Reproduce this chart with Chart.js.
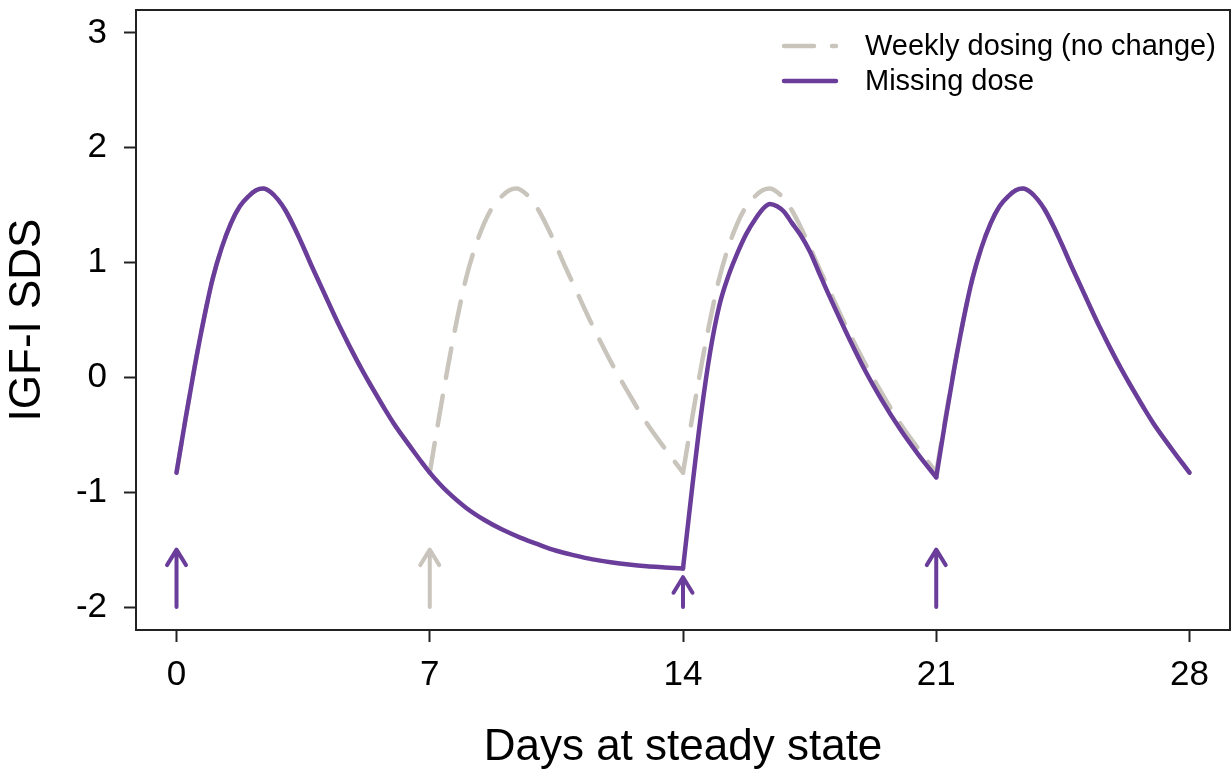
<!DOCTYPE html>
<html><head><meta charset="utf-8">
<script src="https://cdn.jsdelivr.net/npm/chart.js@4/dist/chart.umd.min.js"></script>
<style>html,body{margin:0;padding:0;background:#fff;}canvas{display:block;}</style>
</head><body>
<canvas id="c" width="1232" height="774"></canvas>
<script>
// ---- data ----
const weeklyDays = [
  0,0.25,0.5,0.75,1,1.25,1.5,1.75,2,2.2,2.4,2.6,2.8,3,3.25,3.5,3.75,4,4.5,5,5.5,6,6.5,7,
  7.25,7.5,7.75,8,8.25,8.5,8.75,9,9.2,9.4,9.6,9.8,10,10.25,10.5,10.75,11,11.5,12,12.5,13,13.5,14,
  14.25,14.5,14.75,15,15.25,15.5,15.75,16,16.2,16.4,16.6,16.8,17,17.25,17.5,17.75,18,18.5,19,19.5,20,20.5,21,
  21.25,21.5,21.75,22,22.25,22.5,22.75,23,23.2,23.4,23.6,23.8,24,24.25,24.5,24.75,25,25.5,26,26.5,27,27.5,28
];
const weeklyIGF = [
  -0.83,-0.36,0.09,0.50,0.86,1.13,1.34,1.49,1.58,1.63,1.645,1.615,1.55,1.46,1.31,1.14,0.96,0.79,0.45,0.14,-0.14,-0.40,-0.62,-0.83,
  -0.36,0.09,0.50,0.86,1.13,1.34,1.49,1.58,1.63,1.645,1.615,1.55,1.46,1.31,1.14,0.96,0.79,0.45,0.14,-0.14,-0.40,-0.62,-0.83,
  -0.36,0.09,0.50,0.86,1.13,1.34,1.49,1.58,1.63,1.645,1.615,1.55,1.46,1.31,1.14,0.96,0.79,0.45,0.14,-0.14,-0.40,-0.62,-0.83,
  -0.36,0.09,0.50,0.86,1.13,1.34,1.49,1.58,1.63,1.645,1.615,1.55,1.46,1.31,1.14,0.96,0.79,0.45,0.14,-0.14,-0.40,-0.62,-0.83
];
const weeklyBreaks = [7, 14, 21];

const missingDays = [
  0,0.25,0.5,0.75,1,1.25,1.5,1.75,2,2.2,2.4,2.6,2.8,3,3.25,3.5,3.75,4,4.5,5,5.5,6,6.5,7,
  7.25,7.5,8,8.5,9,9.5,10,10.5,11,11.5,12,12.5,13,13.5,14,
  14.25,14.5,14.75,15,15.25,15.5,15.75,16,16.25,16.4,16.6,16.8,17,17.25,17.5,17.75,18,18.5,19,19.5,20,20.5,21,
  21.25,21.5,21.75,22,22.25,22.5,22.75,23,23.2,23.4,23.6,23.8,24,24.25,24.5,24.75,25,25.5,26,26.5,27,27.5,28
];
const missingIGF = [
  -0.83,-0.36,0.09,0.50,0.86,1.13,1.34,1.49,1.58,1.63,1.645,1.615,1.55,1.46,1.31,1.14,0.96,0.79,0.45,0.14,-0.14,-0.40,-0.62,-0.83,
  -0.92,-1.00,-1.135,-1.24,-1.325,-1.395,-1.455,-1.51,-1.55,-1.585,-1.61,-1.63,-1.645,-1.655,-1.665,
  -0.97,-0.32,0.22,0.62,0.88,1.08,1.25,1.38,1.48,1.51,1.49,1.44,1.35,1.24,1.10,0.92,0.74,0.40,0.08,-0.20,-0.45,-0.67,-0.87,
  -0.38,0.08,0.50,0.86,1.13,1.34,1.49,1.58,1.63,1.645,1.615,1.55,1.46,1.31,1.14,0.96,0.79,0.45,0.14,-0.14,-0.40,-0.62,-0.83
];
const missingBreaks = [14, 21];

const doseDays = [0, 7, 14, 21];
const doseArrowTop = [-1.5, -1.5, -1.74, -1.5];
const doseArrowBase = -2;
const doseSeries = [1, 0, 1, 1];   // 0 = weekly-only (missed) dose, 1 = dose given

const xTicks = [0, 7, 14, 21, 28];
const yTicks = [-2, -1, 0, 1, 2, 3];
const seriesLabels = ['Weekly dosing (no change)', 'Missing dose'];
const xTitle = 'Days at steady state';
const yTitle = 'IGF-I SDS';

// ---- styles ----
const FONT = '"Liberation Sans", Arial, sans-serif';
const seriesStyle = [
  {color: '#c9c5bd', dash: [30, 18], width: 4.5},
  {color: '#6a3d9a', dash: [], width: 4.5}
];

function splitSeries(days, vals, breaks) {
  const segs = []; let cur = [];
  days.forEach((d, i) => {
    cur.push({x: d, y: vals[i]});
    if (breaks.includes(d)) { segs.push(cur); cur = [{x: d, y: vals[i]}]; }
  });
  if (cur.length > 1) segs.push(cur);
  return segs;
}

const datasets = [];
[[missingDays, missingIGF, missingBreaks, 1], [weeklyDays, weeklyIGF, weeklyBreaks, 0]].forEach(([d, v, b, s]) => {
  splitSeries(d, v, b).forEach(seg => {
    datasets.push({
      label: seriesLabels[s], data: seg,
      borderColor: seriesStyle[s].color, borderWidth: seriesStyle[s].width,
      borderDash: seriesStyle[s].dash, borderCapStyle: 'round', borderJoinStyle: 'round',
      pointRadius: 0, fill: false, cubicInterpolationMode: 'monotone',
      order: s === 1 ? 0 : 1
    });
  });
});

const decor = {
  id: 'decor',
  afterDatasetsDraw(chart) {
    const {ctx, scales: {x, y}} = chart;
    ctx.save();
    ctx.lineCap = 'round'; ctx.lineJoin = 'round'; ctx.lineWidth = 4;
    doseDays.forEach((d, i) => {
      const px = x.getPixelForValue(d);
      const yb = y.getPixelForValue(doseArrowBase);
      const yt = y.getPixelForValue(doseArrowTop[i]);
      ctx.strokeStyle = seriesStyle[doseSeries[i]].color;
      ctx.beginPath();
      ctx.moveTo(px, yb); ctx.lineTo(px, yt);
      ctx.moveTo(px - 9.5, yt + 15.5); ctx.lineTo(px, yt); ctx.lineTo(px + 9.5, yt + 15.5);
      ctx.stroke();
    });
    ctx.restore();
  },
  afterDraw(chart) {
    const {ctx, chartArea: a} = chart;
    ctx.save();
    ctx.strokeStyle = '#222'; ctx.lineWidth = 2;
    ctx.strokeRect(a.left, a.top, a.right - a.left, a.bottom - a.top);
    // legend
    const lx0 = a.right - 446, lx1 = a.right - 394, tx = a.right - 365;
    const rows = [a.top + 36, a.top + 71];
    [0, 1].forEach((s, k) => {
      const st = seriesStyle[s];
      ctx.strokeStyle = st.color; ctx.lineWidth = st.width; ctx.lineCap = 'round';
      ctx.setLineDash(st.dash);
      ctx.beginPath(); ctx.moveTo(lx0, rows[k]); ctx.lineTo(lx1, rows[k]); ctx.stroke();
      ctx.setLineDash([]);
      ctx.fillStyle = '#000'; ctx.font = '29px ' + FONT;
      ctx.textBaseline = 'middle'; ctx.textAlign = 'left';
      ctx.fillText(seriesLabels[s], tx, rows[k] + 1);
    });
    ctx.restore();
  }
};

new Chart(document.getElementById('c'), {
  type: 'line',
  data: {datasets},
  options: {
    responsive: false, animation: false, devicePixelRatio: 1,
    layout: {padding: {top: 10, right: 2, left: 0, bottom: 0}},
    plugins: {legend: {display: false}, tooltip: {enabled: false}},
    scales: {
      x: {
        type: 'linear', min: -1.12, max: 29.12,
        afterBuildTicks: s => { s.ticks = xTicks.map(v => ({value: v})); },
        afterFit: s => { s.height = 144; s.paddingLeft = 0; s.paddingRight = 0; },
        grid: {drawOnChartArea: false, drawTicks: true, tickLength: 12, tickWidth: 2, tickColor: '#222'},
        border: {display: false},
        ticks: {font: {family: FONT, size: 35}, color: '#000', padding: 12, maxRotation: 0, autoSkip: false},
        title: {display: true, text: xTitle, color: '#000', font: {family: FONT, size: 44}, padding: {top: 0, bottom: 0}}
      },
      y: {
        type: 'linear', min: -2.2, max: 3.2,
        afterBuildTicks: s => { s.ticks = yTicks.map(v => ({value: v})); },
        afterFit: s => { s.width = 136; s.paddingTop = 0; s.paddingBottom = 0; },
        grid: {drawOnChartArea: false, drawTicks: true, tickLength: 12, tickWidth: 2, tickColor: '#222'},
        border: {display: false},
        ticks: {font: {family: FONT, size: 35}, color: '#000', padding: 17, autoSkip: false},
        title: {display: true, text: yTitle, color: '#000', font: {family: FONT, size: 44}, padding: {top: 1, bottom: 0}}
      }
    }
  },
  plugins: [decor]
});
</script>
</body></html>
